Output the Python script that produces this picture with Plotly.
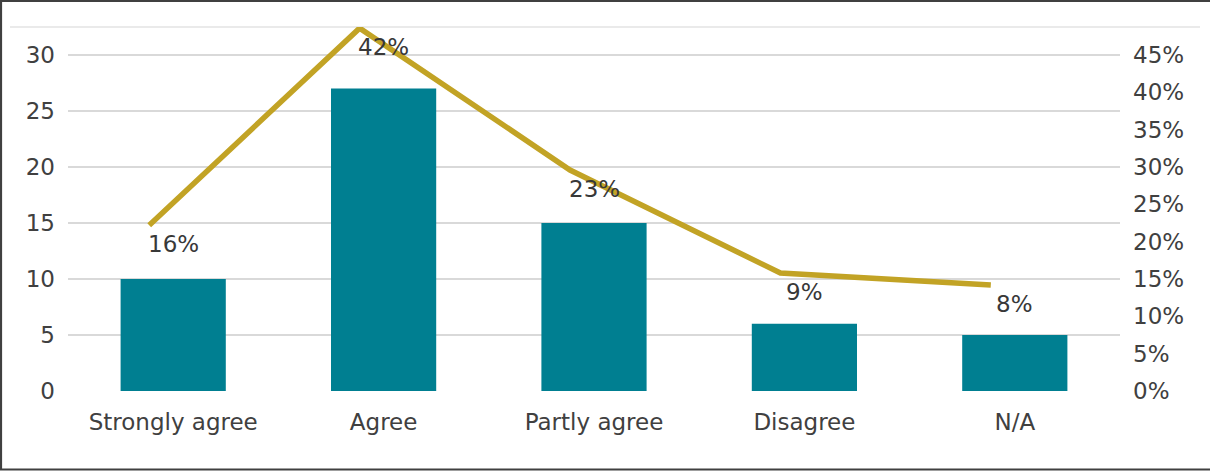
import plotly.graph_objects as go

# ---- data ----
categories = ["Strongly agree", "Agree", "Partly agree", "Disagree", "N/A"]
counts = [10, 27, 15, 6, 5]
share_line = [0.222, 0.486, 0.296, 0.158, 0.142]   # position of the line on the right axis
share_labels = ["16%", "42%", "23%", "9%", "8%"]   # data labels as printed
left_ticks = [0, 5, 10, 15, 20, 25, 30]
right_ticks = [0, 0.05, 0.10, 0.15, 0.20, 0.25, 0.30, 0.35, 0.40, 0.45]

BAR = "#007F91"
LINE = "#C2A325"
TXT = "#404040"
GRID = "#D9D9D9"
FONT = "DejaVu Sans, Verdana, sans-serif"
FS = 23

W, H = 1210, 471
ML, MR, MT, MB = 68, 90, 27, 80
PW, PH = W - ML - MR, H - MT - MB

def px_x(p):
    return (p - ML) / PW

def px_y(p):
    return (H - MB - p) / PH

fig = go.Figure()
fig.add_trace(go.Bar(
    x=categories, y=counts, marker=dict(color=BAR, line=dict(width=0)),
    xaxis="x", yaxis="y", showlegend=False,
))
fig.add_trace(go.Scatter(
    x=categories, y=share_line, mode="lines",
    line=dict(color=LINE, width=5.5),
    xaxis="x2", yaxis="y2", showlegend=False,
))

annotations = []
for c, v, t in zip(categories, share_line, share_labels):
    annotations.append(dict(
        x=c, y=v, xref="x", yref="y2", text=t, showarrow=False,
        yshift=-19, font=dict(family=FONT, size=FS, color="#383838"),
    ))

# outer frame drawn as one open path: top, left, bottom (no right side)
frame_path = "M {:.5f},{:.5f} L {:.5f},{:.5f} L {:.5f},{:.5f} L {:.5f},{:.5f}".format(
    px_x(W + 5), px_y(0.8), px_x(1), px_y(0.8), px_x(1), px_y(469.5), px_x(W + 5), px_y(469.5)
)

shapes = [
    # light top rule across the chart
    dict(type="line", xref="paper", yref="paper",
         x0=px_x(10), x1=px_x(1200), y0=1, y1=1,
         line=dict(color="#E3E3E3", width=1.5), layer="below"),
    dict(type="path", xref="paper", yref="paper", path=frame_path,
         line=dict(color="#404040", width=2.2)),
]

fig.update_layout(
    width=W, height=H,
    margin=dict(l=ML, r=MR, t=MT, b=MB, pad=0),
    paper_bgcolor="white", plot_bgcolor="white",
    font=dict(family=FONT, size=FS, color=TXT),
    bargap=0.5,
    hovermode=False,
    xaxis=dict(
        type="category", range=[-0.5, 4.5], showgrid=False, zeroline=False,
        showline=False, ticks="", ticklabelstandoff=15,
        tickfont=dict(family=FONT, size=FS, color=TXT),
    ),
    xaxis2=dict(
        type="category", overlaying="x", range=[-0.5 + 0.114, 4.5 + 0.114],
        visible=False,
    ),
    yaxis=dict(
        range=[0, 32.5], tickvals=left_ticks, showgrid=True, gridcolor=GRID,
        gridwidth=1.5, zeroline=False, showline=False, ticks="",
        ticklabelstandoff=12, tickfont=dict(family=FONT, size=FS, color=TXT),
    ),
    yaxis2=dict(
        range=[0, 0.4875], tickvals=right_ticks, tickformat=".0%",
        overlaying="y", side="right", showgrid=False, zeroline=False,
        showline=False, ticks="", ticklabelstandoff=12,
        tickfont=dict(family=FONT, size=FS, color=TXT),
    ),
    annotations=annotations,
    shapes=shapes,
)

fig.write_html(
    "out.html",
    config={"displayModeBar": False, "staticPlot": True},
    post_script="document.body.style.margin='0';document.body.style.overflow='hidden';",
)
